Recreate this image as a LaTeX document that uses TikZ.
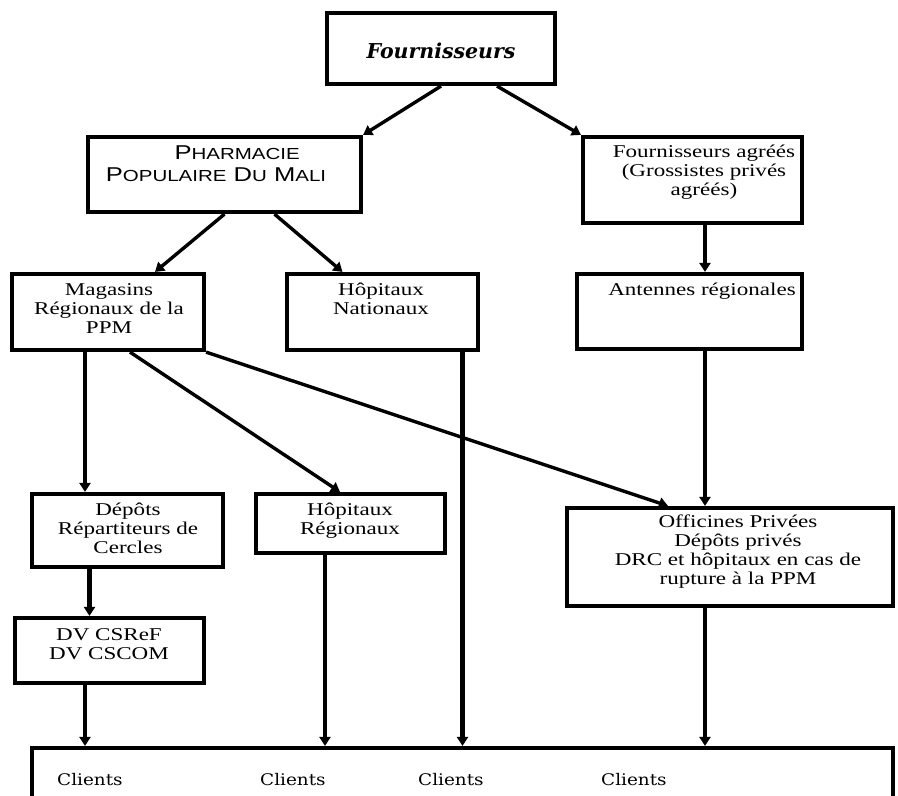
\documentclass[tikz,border=0pt]{standalone}
\usepackage{fontspec}
\usepackage{graphicx}
\setmainfont{Liberation Serif}
\newfontfamily\cambria{DejaVu Serif}
\newfontfamily\arialfont{Liberation Sans}
\usetikzlibrary{arrows.meta,positioning}

\newcommand{\wide}[1]{\scalebox{1.28}[1]{\begin{tabular}{@{}c@{}}#1\end{tabular}}}
\newcommand{\fsc}[2]{{\fontsize{20}{22}\selectfont #1}{\fontsize{16}{22}\selectfont #2}}

\tikzset{
  box/.style={draw, line width=4.2pt, inner sep=0pt},
  txt/.style={inner sep=0pt, font=\fontsize{18}{19}\selectfont},
  cli/.style={inner sep=0pt, anchor=west, font=\cambria\fontsize{16}{18}\selectfont},
  arr/.style={line width=3.4pt, -{Triangle[length=9pt,width=11pt]}},
}

\begin{document}
\begin{tikzpicture}[x=1pt, y=-1pt]

  \clip (0,0) rectangle (898,796);

  \node (fourn) [box, minimum width=228pt, minimum height=71pt] at (441,48.5) {};
  \node (ppm) [box, minimum width=273pt, minimum height=75pt] at (224.5,174.5) {};
  \node (agrees) [box, minimum width=219pt, minimum height=86pt] at (692.5,180) {};
  \node (magasins) [box, minimum width=192pt, minimum height=76pt] at (108,312) {};
  \node (hopnat) [box, minimum width=191pt, minimum height=76pt] at (382.5,312) {};
  \node (antennes) [box, minimum width=225pt, minimum height=75pt] at (689.5,311.5) {};
  \node (depots) [box, minimum width=191pt, minimum height=73pt] at (127.5,530.5) {};
  \node (hopreg) [box, minimum width=189pt, minimum height=59pt] at (350.5,523.5) {};
  \node (officines) [box, minimum width=326pt, minimum height=98pt] at (730,557) {};
  \node (dv) [box, minimum width=189pt, minimum height=65pt] at (109.5,650.5) {};
  \node (clients) [box, minimum width=861pt, minimum height=82pt] at (462.5,789) {};

  \node (fournT) [inner sep=0pt, font=\cambria\bfseries\itshape\fontsize{20.5}{22}\selectfont] at (441,51) {Fournisseurs};
  \node (ppmT) [inner sep=0pt, font=\arialfont\fontsize{20}{22}\selectfont] at (216,166)
    {\scalebox{1.28}[1]{\begin{tabular}{@{}c@{}}\hspace*{33pt}\fsc{P}{HARMACIE}\\ \fsc{P}{OPULAIRE} \fsc{D}{U} \fsc{M}{ALI}\end{tabular}}};
  \node (agreesT) [txt] at (704,173) {\wide{Fournisseurs agréés\\(Grossistes privés\\agréés)}};
  \node (magasinsT) [txt] at (109,311) {\wide{Magasins\\Régionaux de la\\PPM}};
  \node (hopnatT) [txt] at (381,301) {\wide{Hôpitaux\\Nationaux}};
  \node (antennesT) [txt] at (702,292) {\wide{Antennes régionales}};
  \node (depotsT) [txt] at (128,531) {\wide{Dépôts\\Répartiteurs de\\Cercles}};
  \node (hopregT) [txt] at (350,521.5) {\wide{Hôpitaux\\Régionaux}};
  \node (officinesT) [txt] at (738,552) {\wide{Officines Privées\\Dépôts privés\\DRC et hôpitaux en cas de\\rupture à la PPM}};
  \node (dvT) [txt] at (109,646) {\wide{DV CSReF\\DV CSCOM}};

  \node (cli1) [cli] at (57,780) {\scalebox{1.15}[1]{Clients}};
  \node (cli2) [cli] at (260,780) {\scalebox{1.15}[1]{Clients}};
  \node (cli3) [cli] at (418,780) {\scalebox{1.15}[1]{Clients}};
  \node (cli4) [cli] at (601,780) {\scalebox{1.15}[1]{Clients}};

  \draw [arr] (fourn.south) -- (ppm.north east);
  \draw [arr] ([xshift=56pt]fourn.south) -- (agrees.north west);
  \draw [arr] (ppm.south) -- ([xshift=47pt]magasins.north);
  \draw [arr] ([xshift=50pt]ppm.south) -- ([xshift=-40pt]hopnat.north);
  \draw [arr] ([xshift=12.5pt]agrees.south) -- ([xshift=15.5pt]antennes.north);
  \draw [arr] ([xshift=15.5pt]antennes.south) -- ([xshift=-25pt]officines.north);
  \draw [arr, line width=4.2pt] ([xshift=-23pt]magasins.south) -- ([xshift=-42.5pt]depots.north);
  \draw [arr] ([xshift=22pt]magasins.south) -- ([xshift=-10.5pt]hopreg.north);
  \draw [arr] (magasins.south east) -- ([xshift=-62pt]officines.north);
  \draw [arr, line width=5.5pt] ([xshift=80pt]hopnat.south) -- (clients.north);
  \draw [arr] ([xshift=-25.5pt]hopreg.south) -- ([xshift=-137.5pt]clients.north);
  \draw [arr, line width=4.2pt] ([xshift=-38pt]depots.south) -- ([xshift=-20pt]dv.north);
  \draw [arr, line width=4.2pt] ([xshift=-24.5pt]dv.south) -- ([xshift=-377.5pt]clients.north);
  \draw [arr] ([xshift=-25pt]officines.south) -- ([xshift=242.5pt]clients.north);

\end{tikzpicture}
\end{document}
